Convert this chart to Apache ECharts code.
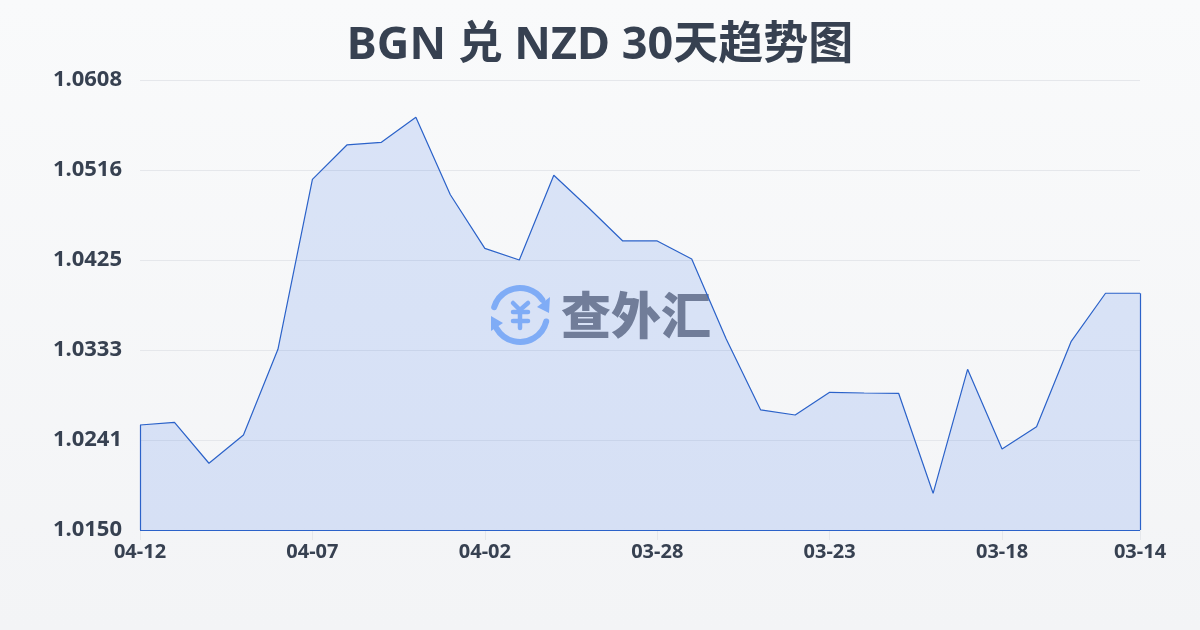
<!DOCTYPE html>
<html>
<head>
<meta charset="utf-8">
<style>
  html, body { margin: 0; padding: 0; }
  #chart { width: 1200px; height: 630px; }
</style>
<script src="https://cdn.jsdelivr.net/npm/echarts@6/dist/echarts.min.js"></script>
</head>
<body>
<div id="chart"></div>
<script>
const titleText = 'BGN 兑 NZD 30天趋势图';
const dates = ['04-12','04-11','04-10','04-09','04-08','04-07','04-06','04-05','04-04','04-03',
  '04-02','04-01','03-31','03-30','03-29','03-28','03-27','03-26','03-25','03-24',
  '03-23','03-22','03-21','03-20','03-19','03-18','03-17','03-16','03-15','03-14'];
const rates = [1.02566,1.02593,1.02176,1.02464,1.03337,1.05069,1.05419,1.05446,1.05701,1.04912,
  1.04366,1.04247,1.0511,1.04782,1.04441,1.04441,1.04257,1.03442,1.02719,1.02668,
  1.02899,1.02892,1.02889,1.0187,1.03133,1.02321,1.02549,1.03415,1.03908,1.03908];
const yMin = 1.01496;
const yMax = 1.06081;
const yStep = 0.00917;
const labelIdx = [0, 5, 10, 15, 20, 25, 29];

const textColor = '#374151';
const gridColor = '#e5e7eb';
const lineColor = '#2b62c9';
const iconColor = '#8fb8f8';
const font = '"Noto Sans", "Noto Sans CJK SC", sans-serif';

const lastIdx = dates.length - 1;
const myChart = echarts.init(document.getElementById('chart'));

// 水印图标的笔画
const iconStroke = { stroke: iconColor, lineWidth: 4.5, lineCap: 'round', fill: null };
const arcStroke = { stroke: iconColor, lineWidth: 6, lineCap: 'round', fill: null };
const deg = Math.PI / 180;

const option = {
  animation: false,
  backgroundColor: new echarts.graphic.LinearGradient(0, 0, 0, 1, [
    { offset: 0, color: '#f9fafb' },
    { offset: 1, color: '#f3f4f6' }
  ]),
  title: {
    text: titleText,
    left: 'center',
    top: 19,
    textStyle: { color: textColor, fontSize: 45, fontWeight: 700, fontFamily: font }
  },
  grid: { left: 140, right: 60, top: 80, bottom: 100 },
  xAxis: {
    type: 'category',
    boundaryGap: false,
    data: dates,
    axisLine: { show: false },
    axisTick: {
      show: true,
      length: 10,
      alignWithLabel: true,
      interval: (i) => labelIdx.includes(i),
      lineStyle: { color: gridColor }
    },
    axisLabel: {
      interval: (i) => labelIdx.includes(i),
      showMinLabel: true,
      showMaxLabel: true,
      hideOverlap: false,
      margin: 12,
      color: textColor,
      fontSize: 20,
      fontWeight: 700,
      fontFamily: font
    },
    splitLine: { show: false }
  },
  yAxis: {
    type: 'value',
    min: yMin,
    max: yMax,
    interval: yStep,
    axisLine: { show: false },
    axisTick: { show: false },
    axisLabel: {
      margin: 18,
      color: textColor,
      fontSize: 22,
      fontWeight: 700,
      fontFamily: font,
      formatter: (v) => v.toFixed(4)
    },
    splitLine: { show: true, lineStyle: { color: gridColor, width: 1 } }
  },
  series: [{
    type: 'line',
    data: rates,
    symbol: 'none',
    smooth: false,
    lineStyle: { color: lineColor, width: 1.2 },
    areaStyle: { color: 'rgba(37,99,235,0.14)', opacity: 1, origin: 'start' },
    z: 3,
    markLine: {
      silent: true,
      symbol: 'none',
      label: { show: false },
      lineStyle: { color: lineColor, width: 1.2, type: 'solid' },
      data: [
        [{ xAxis: dates[0], yAxis: yMin }, { xAxis: dates[0], yAxis: rates[0] }],
        [{ xAxis: dates[lastIdx], yAxis: yMin }, { xAxis: dates[lastIdx], yAxis: rates[lastIdx] }],
        [{ xAxis: dates[0], yAxis: yMin }, { xAxis: dates[lastIdx], yAxis: yMin }]
      ]
    }
  }],
  // 水印
  graphic: [{
    type: 'group',
    silent: true,
    z: 10,
    children: [
      { type: 'arc', shape: { cx: 520, cy: 315, r: 27, startAngle: 197 * deg, endAngle: 326 * deg }, style: arcStroke },
      { type: 'arc', shape: { cx: 520, cy: 315, r: 27, startAngle: 14 * deg, endAngle: 150 * deg }, style: arcStroke },
      { type: 'polygon', shape: { points: [[550, 297], [549, 313], [537, 307]] }, style: { fill: iconColor } },
      { type: 'polygon', shape: { points: [[491, 316], [491, 331], [503, 323]] }, style: { fill: iconColor } },
      { type: 'polyline', shape: { points: [[513, 303], [520, 310], [528, 303]] }, style: iconStroke },
      { type: 'line', shape: { x1: 513, y1: 312, x2: 528, y2: 312 }, style: iconStroke },
      { type: 'line', shape: { x1: 513, y1: 321, x2: 528, y2: 321 }, style: iconStroke },
      { type: 'line', shape: { x1: 520, y1: 310, x2: 520, y2: 328 }, style: iconStroke },
      { type: 'text', style: { x: 561, y: 315, text: '查外汇', align: 'left', verticalAlign: 'middle',
        fill: '#7e828c', font: '900 50px "Noto Sans CJK SC", sans-serif' } }
    ]
  }]
};
myChart.setOption(option);
</script>
</body>
</html>
